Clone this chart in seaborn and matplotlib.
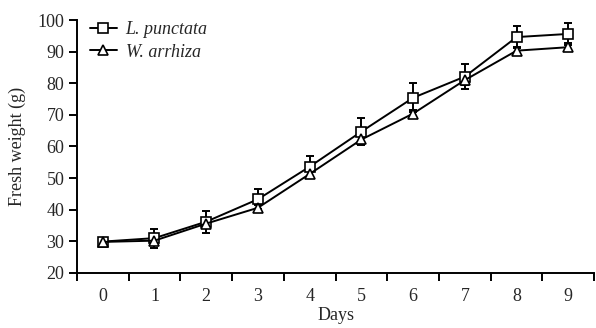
import numpy as np
import pandas as pd
import matplotlib
matplotlib.use("Agg")
import matplotlib.pyplot as plt
import seaborn as sns

days = [0, 1, 2, 3, 4, 5, 6, 7, 8, 9]
lp_mean = [29.9, 31.0, 36.2, 43.3, 53.6, 64.7, 75.4, 82.1, 94.6, 95.6]
lp_err = [0.5, 3.0, 3.5, 3.2, 3.5, 4.3, 4.6, 4.0, 3.5, 3.4]
wa_mean = [29.8, 30.2, 35.6, 40.6, 51.3, 62.2, 70.4, 81.0, 90.3, 91.4]
wa_err = [0.5, 1.2, 1.5, 1.0, 1.0, 1.0, 1.0, 1.5, 1.2, 1.2]

sns.set_style("ticks")
plt.rcParams['font.family'] = ['Liberation Serif', 'DejaVu Serif']

fig = plt.figure(figsize=(5.96, 3.28), dpi=100)
ax = fig.add_axes([0.129, 0.168, 0.868, 0.771])

df = pd.DataFrame({
    'Days': days * 2,
    'Fresh weight': lp_mean + wa_mean,
    'Species': ['L. punctata'] * 10 + ['W. arrhiza'] * 10,
})

# error bars first so markers sit on top
ax.errorbar(days, lp_mean, yerr=lp_err, fmt='none', ecolor='black', elinewidth=1.4, capsize=2.8, capthick=1.4, zorder=2)
ax.errorbar(days, wa_mean, yerr=wa_err, fmt='none', ecolor='black', elinewidth=1.4, capsize=2.8, capthick=1.4, zorder=2)

sns.lineplot(data=df, x='Days', y='Fresh weight', hue='Species', style='Species',
             markers={'L. punctata': 's', 'W. arrhiza': '^'}, dashes=False,
             palette=['black', 'black'], linewidth=1.4, markersize=6.5,
             markerfacecolor='white', markeredgecolor='black', markeredgewidth=1.2,
             ax=ax, zorder=3)

ax.set_xlim(-0.5, 9.5)
ax.set_ylim(20, 100)
ax.set_yticks(range(20, 101, 10))
ax.set_xticks(days)
ax.set_xticks(np.arange(-0.5, 9.6, 1), minor=True)
ax.tick_params(axis='x', which='major', length=0, labelsize=13, pad=11)
ax.tick_params(axis='x', which='minor', length=6, width=1.4, color='black')
ax.tick_params(axis='y', length=6, width=1.4, labelsize=13, color='black', pad=3)
for s in ['left', 'bottom']:
    ax.spines[s].set_linewidth(1.4)
    ax.spines[s].set_color('black')
sns.despine(ax=ax)

ax.set_xlabel('Days', fontsize=13, labelpad=1)
ax.set_ylabel('Fresh weight (g)', fontsize=13, labelpad=8)

leg = ax.legend(loc='upper left', frameon=False, bbox_to_anchor=(0.0, 1.045),
                handlelength=1.5, handletextpad=0.5, labelspacing=0.3, fontsize=13,
                borderaxespad=0.3)
for t in leg.get_texts():
    t.set_fontstyle('italic')

fig.savefig('out.png', dpi=100)
